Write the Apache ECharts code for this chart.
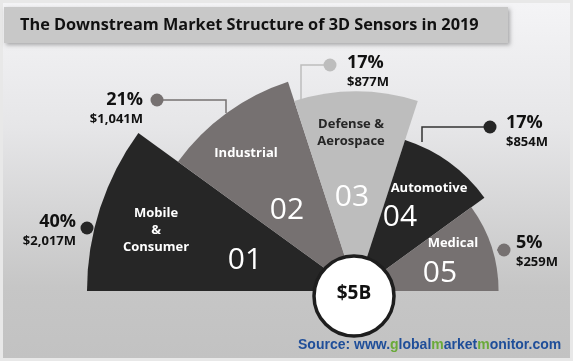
<!DOCTYPE html>
<html><head><meta charset="utf-8">
<script src="https://cdn.jsdelivr.net/npm/echarts@6/dist/echarts.min.js"></script>
<style>html,body{margin:0;padding:0;background:#fff}#c{width:573px;height:361px}</style>
</head><body><div id="c"></div>
<script>
// ---- data ----
const categories = ['Mobile\n&\nConsumer', 'Industrial', 'Defense &\nAerospace', 'Automotive', 'Medical'];
const segmentNumbers = ['01', '02', '03', '04', '05'];
const sharePct = [40, 21, 17, 17, 5];
const valuesMUSD = [2017, 1041, 877, 854, 259];
const totalLabel = '$5B';
const titleText = 'The Downstream Market Structure of 3D Sensors in 2019';

// ---- style (visual sizes / colours, not data) ----
const sectorReach = [1.0, 0.818, 0.743, 0.59, 0.53];      // relative sector length as drawn
const sectorColors = ['#262626', '#767171', '#bdbdbd', '#262626', '#767171'];
const nameColors = ['#ffffff', '#ffffff', '#262626', '#ffffff', '#ffffff'];
const center = [356, 291];
const outerR = 269;
// callout layout: dot position, leader path end, text anchor
const callouts = [
  {dot: [87, 228], path: null, tx: 76, ty: 222, align: 'right'},
  {dot: [157, 100], path: [[226, 100], [226, 113]], tx: 143, ty: 100, align: 'right'},
  {dot: [330, 65], path: [[301, 65], [301, 100]], tx: 347, ty: 63, align: 'left'},
  {dot: [490, 127], path: [[422, 127], [422, 142]], tx: 506, ty: 123, align: 'left'},
  {dot: [504, 250], path: [[497, 250]], tx: 516, ty: 243, align: 'left'}
];
const nameLayout = [[156, 230], [246, 153], [351, 133], [429, 188], [453, 243]];
const numLayout = [[245, 260], [287, 210], [352, 197], [400, 217], [440, 273]];

const fmtMoney = v => '$' + v.toLocaleString('en-US') + 'M';

const chart = echarts.init(document.getElementById('c'), null, {renderer: 'canvas'});

const graphics = [
  {type: 'rect', z: 0, shape: {x: 0, y: 0, width: 573, height: 361}, style: {fill: '#e8e8e8'}},
  {type: 'rect', z: 0, shape: {x: 3, y: 3, width: 567, height: 355},
    style: {fill: new echarts.graphic.LinearGradient(0, 0, 0, 1, [
      {offset: 0, color: '#f4f4f6'}, {offset: 0.35, color: '#e6e6e8'},
      {offset: 0.8, color: '#c6c6c6'}, {offset: 1, color: '#c2c2c2'}])}},
  {type: 'rect', z: 1, shape: {x: 4, y: 7, width: 504, height: 36},
    style: {fill: '#c8c8c8', shadowBlur: 4, shadowOffsetX: 2, shadowOffsetY: 2, shadowColor: 'rgba(0,0,0,0.3)'}},
  {type: 'text', z: 5, x: 20, y: 25, style: {text: titleText, font: 'bold 16.3px "Open Sans"', fill: '#111', verticalAlign: 'middle'}},
  // centre circle
  {type: 'circle', z: 50, shape: {cx: 354, cy: 296, r: 40}, style: {fill: '#ffffff', stroke: '#1e1e1e', lineWidth: 3.5}},
  {type: 'text', z: 51, x: 354, y: 294, style: {text: totalLabel, font: 'bold 19px "Open Sans"', fill: '#111', align: 'center', verticalAlign: 'middle'}},
  // source
  {type: 'text', z: 51, x: 298, y: 345, style: {
    text: '{b|Source: www.}{g|g}{b|lobal}{g|m}{b|arket}{g|m}{b|onitor.com}', verticalAlign: 'middle',
    rich: {b: {font: 'bold 14px "Liberation Sans"', fill: '#1f4e99'}, g: {font: 'bold 14px "Liberation Sans"', fill: '#6aaa3a'}}}}
];

categories.forEach((name, i) => {
  const c = callouts[i];
  if (c.path) {
    graphics.push({type: 'polyline', z: 40, shape: {points: [c.dot].concat(c.path)},
      style: {stroke: sectorColors[i] === '#262626' ? '#333' : sectorColors[i], lineWidth: 1.5, fill: null}});
  }
  graphics.push({type: 'circle', z: 41, shape: {cx: c.dot[0], cy: c.dot[1], r: 6.5}, style: {fill: sectorColors[i]}});
  graphics.push({type: 'text', z: 41, x: c.tx, y: c.ty, style: {text: sharePct[i] + '%', font: 'bold 18px "Open Sans"', fill: '#111', align: c.align, verticalAlign: 'middle'}});
  graphics.push({type: 'text', z: 41, x: c.tx, y: c.ty + 19, style: {text: fmtMoney(valuesMUSD[i]), font: 'bold 13px "Open Sans"', fill: '#111', align: c.align, verticalAlign: 'middle'}});
  graphics.push({type: 'text', z: 41, x: nameLayout[i][0], y: nameLayout[i][1], style: {text: name, font: 'bold 13px "Open Sans"', lineHeight: 17, fill: nameColors[i], align: 'center', verticalAlign: 'middle'}});
  graphics.push({type: 'text', z: 41, x: numLayout[i][0], y: numLayout[i][1], style: {text: segmentNumbers[i], font: '30px "Open Sans"', fill: '#ffffff', align: 'center', verticalAlign: 'middle'}});
});

chart.setOption({
  animation: false,
  polar: {center: center, radius: [0, outerR]},
  angleAxis: {type: 'category', data: categories, startAngle: 180, endAngle: 0, clockwise: true, show: false},
  radiusAxis: {type: 'value', min: 0, max: 1, show: false},
  graphic: {elements: graphics},
  series: [{
    type: 'bar', coordinateSystem: 'polar', barCategoryGap: '0%', z: 10,
    data: sectorReach.map((r, i) => ({value: r, name: categories[i], itemStyle: {color: sectorColors[i]}})),
    silent: true
  }]
});
</script></body></html>
